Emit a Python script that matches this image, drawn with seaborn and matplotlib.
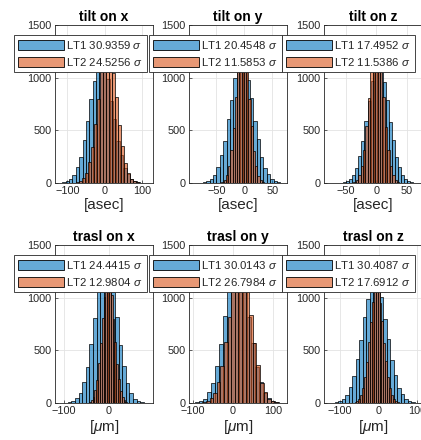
import numpy as np
import pandas as pd
import matplotlib
matplotlib.use("Agg")
import matplotlib.pyplot as plt
import matplotlib.patches as mpatches
import seaborn as sns

# Panel texts
titles = ["tilt on x", "tilt on y", "tilt on z", "trasl on x", "trasl on y", "trasl on z"]
units = ["[asec]", "[asec]", "[asec]", r"[$\mu$m]", r"[$\mu$m]", r"[$\mu$m]"]
lt1_sigma = ["30.9359", "20.4548", "17.4952", "24.4415", "30.0143", "30.4087"]
lt2_sigma = ["24.5256", "11.5853", "11.5386", "12.9804", "26.7984", "17.6912"]

# Histogram bins (first edge, bin width) and counts
lt1_start = [-122.5, -80, -59.5, -99, -105, -122.5]
lt1_width = [9, 6, 5, 8, 10, 9]
lt2_start = [-84, -45, -42, -48, -85.5, -67.5]
lt2_width = [8, 4, 4, 4, 9, 5]

lt1_counts = [
    [2, 8, 15, 41, 75, 152, 249, 412, 585, 801, 968, 1122, 1149, 1098, 990, 781, 603, 398, 262, 141, 83, 35, 19, 6, 2],
    [2, 8, 16, 41, 77, 151, 262, 402, 603, 792, 995, 1110, 1175, 1126, 979, 808, 589, 415, 251, 145, 82, 37, 19, 6, 3],
    [3, 6, 18, 36, 80, 142, 255, 394, 588, 775, 970, 1086, 1147, 1101, 958, 787, 576, 404, 247, 149, 76, 39, 16, 8, 2],
    [2, 7, 16, 45, 93, 197, 341, 562, 805, 1066, 1235, 1318, 1248, 1050, 817, 551, 352, 189, 98, 41, 18, 5, 2],
    [2, 6, 19, 42, 101, 193, 356, 560, 830, 1068, 1270, 1322, 1255, 1082, 816, 574, 345, 199, 95, 46, 17, 7, 1],
    [3, 8, 17, 41, 78, 153, 256, 418, 597, 815, 990, 1140, 1172, 1125, 1004, 801, 610, 407, 265, 146, 82, 36, 19, 6, 2],
]
lt2_counts = [
    [1, 7, 15, 45, 93, 196, 339, 561, 798, 1062, 1226, 1310, 1241, 1047, 812, 549, 350, 186, 99, 41, 18, 5, 2],
    [3, 12, 28, 77, 158, 316, 524, 812, 1077, 1303, 1368, 1290, 1092, 798, 537, 305, 165, 71, 32, 10, 4],
    [4, 10, 33, 72, 165, 309, 541, 806, 1101, 1299, 1395, 1312, 1088, 819, 530, 318, 158, 77, 29, 12, 3],
    [4, 10, 28, 57, 124, 219, 381, 570, 809, 1009, 1180, 1221, 1165, 1024, 795, 583, 370, 227, 117, 61, 25, 12, 3],
    [1, 7, 17, 45, 96, 201, 349, 577, 821, 1090, 1262, 1348, 1276, 1075, 836, 566, 358, 193, 101, 42, 19, 5, 2],
    [2, 7, 18, 36, 79, 139, 251, 389, 580, 766, 958, 1074, 1135, 1088, 945, 779, 569, 400, 244, 147, 74, 39, 16, 6, 3],
]

# Axis limits and ticks
xlims = [(-133, 128), (-99, 76), (-86, 75), (-119, 97), (-110, 135), (-142, 113)]
xticks = [[-100, 0, 100], [-50, 0, 50], [-50, 0, 50], [-100, 0], [-100, 0, 100], [-100, 0, 100]]
yticks = [0, 500, 1000, 1500]

BLUE = (0.0, 0.447, 0.741)
ORANGE = (0.85, 0.325, 0.098)
DARK = "#262626"

sns.set_theme(style="white")
plt.rcParams["font.family"] = ["Liberation Sans", "DejaVu Sans"]
plt.rcParams["mathtext.fontset"] = "custom"
plt.rcParams["mathtext.it"] = "Liberation Sans:italic"
plt.rcParams["mathtext.rm"] = "Liberation Sans"

W, H = 421, 440
fig = plt.figure(figsize=(W / 100, H / 100), dpi=100)

col_left = [55, 189, 324]
row_top = [25, 245]
ax_w, ax_h = 98, 158
leg_left = [14, 149, 282]
leg_top = [35, 255]


def draw_hist(ax, start, width, counts, rgb):
    n = len(counts)
    centers = start + width * (np.arange(n) + 0.5)
    df = pd.DataFrame({"x": centers, "w": counts})
    n0 = len(ax.patches)
    sns.histplot(data=df, x="x", weights="w", binwidth=width,
                 binrange=(start, start + width * n), ax=ax, color=rgb,
                 edgecolor="black", linewidth=0.5)
    for p in ax.patches[n0:]:
        p.set_alpha(None)
        p.set_facecolor((*rgb, 0.6))
        p.set_edgecolor("black")


for i in range(6):
    r, c = divmod(i, 3)
    ax = fig.add_axes([col_left[c] / W, 1 - (row_top[r] + ax_h) / H, ax_w / W, ax_h / H])
    draw_hist(ax, lt1_start[i], lt1_width[i], lt1_counts[i], BLUE)
    draw_hist(ax, lt2_start[i], lt2_width[i], lt2_counts[i], ORANGE)

    ax.set_xticks(xticks[i])
    ax.set_yticks(yticks)
    ax.set_xlim(xlims[i])
    ax.set_ylim(0, 1500)
    ax.grid(True, color="#e3e3e3", linewidth=0.6)
    ax.set_axisbelow(True)
    ax.tick_params(direction="in", length=2.5, width=0.5, labelsize=7.8,
                   colors=DARK, pad=2.5, left=True, bottom=True)
    for s in ax.spines.values():
        s.set_color(DARK)
        s.set_linewidth(0.6)
    ax.set_ylabel("")
    ax.set_xlabel(units[i], fontsize=11, color=DARK, labelpad=1)
    ax.set_title(titles[i], fontsize=10, fontweight="bold", color="black", pad=3)

    handles = [
        mpatches.Patch(facecolor=(*BLUE, 0.6), edgecolor="black", linewidth=0.6),
        mpatches.Patch(facecolor=(*ORANGE, 0.6), edgecolor="black", linewidth=0.6),
    ]
    labels = [f"LT1 {lt1_sigma[i]} $\\sigma$", f"LT2 {lt2_sigma[i]} $\\sigma$"]
    leg = ax.legend(handles, labels, loc="upper left",
                    bbox_to_anchor=(leg_left[c] / W, 1 - leg_top[r] / H),
                    bbox_transform=fig.transFigure, borderaxespad=0,
                    fontsize=8.2, handlelength=4.0, handleheight=0.95,
                    handletextpad=0.25, labelspacing=0.4, borderpad=0.35,
                    fancybox=False, framealpha=1, edgecolor=DARK)
    leg.get_frame().set_linewidth(0.6)

fig.savefig("out.png", dpi=100)
